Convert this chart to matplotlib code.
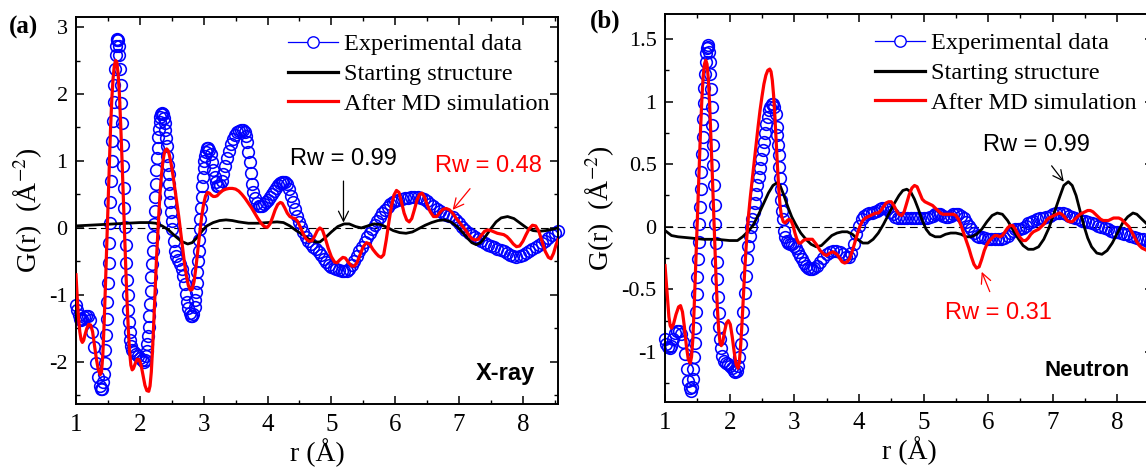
"""
plot.py - pair distribution function G(r): X-ray (a) and neutron (b) panels
Output: out.png (1146x470)
"""
import numpy as np
import matplotlib
matplotlib.use("Agg")
import matplotlib.pyplot as plt
from matplotlib.lines import Line2D
from matplotlib.ticker import MultipleLocator, FuncFormatter

plt.rcParams.update({
    "font.family": ["Liberation Serif", "DejaVu Serif"],
    "mathtext.fontset": "stix",
    "axes.unicode_minus": False,
    "xtick.direction": "in",
    "ytick.direction": "in",
    "xtick.top": True,
    "ytick.right": True,
    "xtick.minor.visible": True,
    "ytick.minor.visible": True,
    "xtick.major.size": 6,
    "ytick.major.size": 6,
    "xtick.minor.size": 3,
    "ytick.minor.size": 3,
    "xtick.major.width": 1.1,
    "ytick.major.width": 1.1,
    "xtick.minor.width": 1.0,
    "ytick.minor.width": 1.0,
    "axes.linewidth": 1.4,
})

# ---------------- (a) X-ray ----------------
xray_exp = [
    (1.00, -1.15), (1.02, -1.22), (1.04, -1.30), (1.06, -1.36), (1.08, -1.38),
    (1.10, -1.36), (1.13, -1.33), (1.16, -1.31), (1.19, -1.32), (1.22, -1.38),
    (1.25, -1.55), (1.28, -1.78), (1.31, -2.02), (1.34, -2.22), (1.37, -2.36),
    (1.39, -2.41), (1.41, -2.40), (1.43, -2.30), (1.44, -2.18), (1.45, -2.02),
    (1.46, -1.82), (1.47, -1.60), (1.48, -1.36), (1.49, -1.10), (1.50, -0.82),
    (1.51, -0.52), (1.52, -0.22), (1.53, 0.08), (1.54, 0.38), (1.55, 0.70),
    (1.56, 1.00), (1.57, 1.30), (1.58, 1.60), (1.59, 1.88), (1.60, 2.14),
    (1.61, 2.38), (1.62, 2.58), (1.63, 2.72), (1.64, 2.80), (1.65, 2.82),
    (1.66, 2.80), (1.67, 2.72), (1.68, 2.58), (1.69, 2.38), (1.70, 2.14),
    (1.71, 1.86), (1.72, 1.56), (1.73, 1.24), (1.74, 0.92), (1.75, 0.60),
    (1.76, 0.30), (1.77, 0.02), (1.78, -0.26), (1.79, -0.52), (1.80, -0.78),
    (1.81, -1.00), (1.82, -1.22), (1.83, -1.40), (1.84, -1.56), (1.85, -1.68),
    (1.86, -1.76), (1.88, -1.82), (1.91, -1.86), (1.94, -1.88), (1.97, -1.92),
    (2.00, -1.95), (2.03, -1.98), (2.06, -2.00), (2.08, -1.98), (2.10, -1.92),
    (2.11, -1.84), (2.12, -1.74), (2.13, -1.62), (2.14, -1.48), (2.15, -1.32),
    (2.16, -1.14), (2.17, -0.94), (2.18, -0.74), (2.19, -0.54), (2.20, -0.34),
    (2.21, -0.14), (2.22, 0.06), (2.23, 0.26), (2.24, 0.46), (2.25, 0.66),
    (2.26, 0.86), (2.27, 1.04), (2.28, 1.20), (2.29, 1.36), (2.30, 1.48),
    (2.31, 1.58), (2.32, 1.65), (2.33, 1.70), (2.35, 1.72), (2.37, 1.70),
    (2.38, 1.64), (2.39, 1.56), (2.40, 1.46), (2.41, 1.34), (2.42, 1.22),
    (2.43, 1.08), (2.44, 0.94), (2.45, 0.80), (2.46, 0.66), (2.47, 0.52),
    (2.48, 0.38), (2.49, 0.24), (2.50, 0.10), (2.51, -0.02), (2.53, -0.20),
    (2.55, -0.34), (2.57, -0.42), (2.60, -0.48), (2.63, -0.54), (2.66, -0.62),
    (2.68, -0.72), (2.70, -0.84), (2.72, -0.98), (2.74, -1.10), (2.76, -1.20),
    (2.78, -1.27), (2.80, -1.31), (2.82, -1.32), (2.84, -1.28), (2.86, -1.18),
    (2.87, -1.08), (2.88, -0.96), (2.89, -0.82), (2.90, -0.66), (2.91, -0.50),
    (2.92, -0.34), (2.93, -0.18), (2.94, -0.02), (2.95, 0.14), (2.96, 0.30),
    (2.97, 0.46), (2.98, 0.62), (2.99, 0.76), (3.00, 0.90), (3.01, 1.00),
    (3.02, 1.08), (3.03, 1.14), (3.05, 1.19), (3.07, 1.20), (3.09, 1.17),
    (3.11, 1.10), (3.13, 0.98), (3.15, 0.86), (3.17, 0.76), (3.19, 0.68),
    (3.21, 0.63), (3.23, 0.62), (3.25, 0.64), (3.28, 0.70), (3.31, 0.80),
    (3.34, 0.92), (3.37, 1.04), (3.40, 1.15), (3.43, 1.25), (3.46, 1.33),
    (3.49, 1.39), (3.52, 1.43), (3.55, 1.45), (3.58, 1.46), (3.61, 1.46),
    (3.64, 1.44), (3.66, 1.38), (3.68, 1.28), (3.70, 1.14), (3.72, 0.98),
    (3.74, 0.82), (3.76, 0.66), (3.78, 0.54), (3.80, 0.44), (3.83, 0.37),
    (3.86, 0.33), (3.89, 0.32), (3.92, 0.33), (3.95, 0.36), (3.98, 0.39),
    (4.01, 0.42), (4.04, 0.46), (4.07, 0.50), (4.10, 0.55), (4.13, 0.60),
    (4.16, 0.64), (4.19, 0.67), (4.22, 0.68), (4.25, 0.68), (4.28, 0.68),
    (4.31, 0.65), (4.34, 0.58), (4.37, 0.48), (4.40, 0.38), (4.43, 0.28),
    (4.46, 0.18), (4.49, 0.09), (4.52, 0.02), (4.56, -0.06), (4.60, -0.13),
    (4.64, -0.19), (4.68, -0.24), (4.72, -0.28), (4.76, -0.32), (4.80, -0.36),
    (4.84, -0.41), (4.88, -0.46), (4.92, -0.51), (4.96, -0.55), (5.00, -0.58),
    (5.04, -0.60), (5.08, -0.62), (5.12, -0.63), (5.16, -0.64), (5.20, -0.65),
    (5.24, -0.64), (5.28, -0.61), (5.32, -0.56), (5.36, -0.49), (5.40, -0.42),
    (5.44, -0.35), (5.48, -0.28), (5.52, -0.21), (5.56, -0.14), (5.60, -0.08),
    (5.64, -0.02), (5.68, 0.04), (5.72, 0.10), (5.76, 0.16), (5.80, 0.22),
    (5.84, 0.27), (5.88, 0.31), (5.92, 0.35), (5.96, 0.38), (6.00, 0.40),
    (6.05, 0.42), (6.10, 0.43), (6.15, 0.44), (6.20, 0.45), (6.25, 0.46),
    (6.30, 0.46), (6.35, 0.46), (6.40, 0.45), (6.45, 0.43), (6.50, 0.40),
    (6.55, 0.36), (6.60, 0.32), (6.65, 0.28), (6.70, 0.25), (6.75, 0.22),
    (6.80, 0.20), (6.85, 0.18), (6.90, 0.16), (6.95, 0.12), (7.00, 0.07),
    (7.05, 0.02), (7.10, -0.03), (7.15, -0.07), (7.20, -0.10), (7.25, -0.13),
    (7.30, -0.16), (7.35, -0.19), (7.40, -0.22), (7.45, -0.25), (7.50, -0.27),
    (7.55, -0.29), (7.60, -0.31), (7.65, -0.33), (7.70, -0.35), (7.75, -0.38),
    (7.80, -0.40), (7.85, -0.42), (7.90, -0.43), (7.95, -0.42), (8.00, -0.40),
    (8.05, -0.38), (8.10, -0.35), (8.15, -0.32), (8.20, -0.29), (8.25, -0.26),
    (8.30, -0.23), (8.35, -0.19), (8.40, -0.15), (8.45, -0.11), (8.50, -0.07),
    (8.55, -0.04),
]

xray_start = [
    (1.00, 0.03), (1.20, 0.04), (1.40, 0.05), (1.60, 0.06), (1.80, 0.07),
    (2.00, 0.08), (2.15, 0.08), (2.25, 0.07), (2.35, 0.03), (2.45, -0.03),
    (2.55, -0.12), (2.65, -0.20), (2.75, -0.24), (2.82, -0.22), (2.90, -0.14),
    (2.98, -0.04), (3.05, 0.03), (3.15, 0.08), (3.25, 0.11), (3.35, 0.12),
    (3.45, 0.11), (3.55, 0.09), (3.70, 0.07), (3.85, 0.07), (4.00, 0.08),
    (4.15, 0.09), (4.25, 0.08), (4.35, 0.03), (4.45, -0.04), (4.55, -0.10),
    (4.65, -0.17), (4.75, -0.21), (4.82, -0.21), (4.90, -0.15), (5.00, -0.06),
    (5.10, 0.02), (5.20, 0.06), (5.28, 0.06), (5.38, 0.02), (5.47, 0.00),
    (5.57, 0.03), (5.67, 0.06), (5.77, 0.05), (5.87, 0.01), (5.97, -0.04),
    (6.07, -0.07), (6.17, -0.08), (6.27, -0.06), (6.37, -0.01), (6.47, 0.04),
    (6.57, 0.08), (6.67, 0.11), (6.77, 0.12), (6.87, 0.09), (6.97, 0.02),
    (7.05, -0.06), (7.13, -0.15), (7.20, -0.22), (7.27, -0.25), (7.34, -0.22),
    (7.42, -0.12), (7.50, -0.01), (7.58, 0.09), (7.66, 0.15), (7.76, 0.17),
    (7.86, 0.14), (7.96, 0.07), (8.06, 0.00), (8.16, -0.04), (8.26, -0.05),
    (8.36, -0.04), (8.46, -0.02), (8.55, 0.00),
]

xray_md = [
    (1.00, -0.70), (1.02, -1.05), (1.04, -1.35), (1.06, -1.55), (1.08, -1.67),
    (1.10, -1.71), (1.12, -1.68), (1.14, -1.60), (1.17, -1.50), (1.20, -1.44),
    (1.23, -1.45), (1.26, -1.55), (1.29, -1.75), (1.32, -1.96), (1.35, -2.12),
    (1.38, -2.19), (1.40, -2.15), (1.42, -1.90), (1.44, -1.45), (1.46, -0.90),
    (1.48, -0.30), (1.50, 0.30), (1.52, 0.90), (1.54, 1.45), (1.56, 1.90),
    (1.58, 2.22), (1.60, 2.42), (1.62, 2.50), (1.64, 2.48), (1.66, 2.30),
    (1.68, 2.00), (1.70, 1.55), (1.72, 1.05), (1.74, 0.50), (1.76, -0.05),
    (1.78, -0.60), (1.80, -1.10), (1.82, -1.52), (1.84, -1.85), (1.86, -2.05),
    (1.88, -2.12), (1.90, -2.10), (1.93, -2.02), (1.96, -1.96), (1.99, -1.97),
    (2.02, -2.05), (2.05, -2.20), (2.08, -2.35), (2.11, -2.43), (2.14, -2.44),
    (2.16, -2.36), (2.18, -2.15), (2.20, -1.80), (2.22, -1.38), (2.24, -0.92),
    (2.26, -0.48), (2.28, -0.10), (2.30, 0.25), (2.32, 0.56), (2.34, 0.80),
    (2.36, 0.98), (2.38, 1.10), (2.40, 1.16), (2.42, 1.18), (2.44, 1.16),
    (2.46, 1.10), (2.49, 0.96), (2.52, 0.78), (2.55, 0.58), (2.58, 0.38),
    (2.61, 0.17), (2.64, -0.06), (2.67, -0.30), (2.70, -0.53), (2.73, -0.72),
    (2.76, -0.86), (2.79, -0.93), (2.82, -0.92), (2.85, -0.80), (2.88, -0.58),
    (2.91, -0.32), (2.94, -0.06), (2.97, 0.18), (3.00, 0.36), (3.03, 0.48),
    (3.06, 0.53), (3.09, 0.52), (3.12, 0.49), (3.15, 0.47), (3.18, 0.47),
    (3.21, 0.48), (3.25, 0.52), (3.30, 0.56), (3.35, 0.58), (3.40, 0.59),
    (3.45, 0.59), (3.50, 0.58), (3.55, 0.55), (3.60, 0.50), (3.65, 0.44),
    (3.70, 0.37), (3.75, 0.30), (3.80, 0.22), (3.85, 0.14), (3.90, 0.07),
    (3.95, 0.02), (4.00, 0.01), (4.04, 0.06), (4.08, 0.16), (4.12, 0.27),
    (4.16, 0.35), (4.20, 0.38), (4.23, 0.37), (4.27, 0.30), (4.31, 0.22),
    (4.35, 0.17), (4.39, 0.15), (4.43, 0.14), (4.47, 0.10), (4.51, 0.02),
    (4.55, -0.07), (4.60, -0.16), (4.65, -0.20), (4.70, -0.19), (4.74, -0.12),
    (4.78, -0.04), (4.82, 0.00), (4.86, -0.03), (4.90, -0.14), (4.95, -0.30),
    (5.00, -0.43), (5.05, -0.51), (5.09, -0.52), (5.13, -0.48), (5.18, -0.44),
    (5.22, -0.45), (5.27, -0.52), (5.32, -0.57), (5.36, -0.57), (5.40, -0.52),
    (5.45, -0.40), (5.50, -0.28), (5.55, -0.22), (5.60, -0.24), (5.65, -0.32),
    (5.70, -0.38), (5.74, -0.42), (5.78, -0.44), (5.82, -0.40), (5.86, -0.18),
    (5.90, 0.08), (5.94, 0.32), (5.98, 0.49), (6.02, 0.56), (6.06, 0.53),
    (6.10, 0.38), (6.14, 0.22), (6.18, 0.12), (6.22, 0.09), (6.26, 0.14),
    (6.30, 0.27), (6.34, 0.41), (6.38, 0.50), (6.42, 0.52), (6.46, 0.46),
    (6.50, 0.35), (6.55, 0.24), (6.60, 0.17), (6.65, 0.17), (6.70, 0.23),
    (6.75, 0.28), (6.80, 0.29), (6.85, 0.27), (6.90, 0.22), (6.95, 0.15),
    (7.00, 0.09), (7.05, 0.03), (7.10, -0.03), (7.15, -0.10), (7.20, -0.16),
    (7.25, -0.18), (7.30, -0.17), (7.35, -0.11), (7.40, -0.05), (7.45, -0.03),
    (7.50, -0.04), (7.55, -0.06), (7.60, -0.08), (7.65, -0.09), (7.70, -0.10),
    (7.75, -0.13), (7.80, -0.18), (7.85, -0.24), (7.90, -0.28), (7.95, -0.27),
    (8.00, -0.20), (8.05, -0.10), (8.10, -0.01), (8.15, 0.04), (8.20, 0.03),
    (8.25, -0.05), (8.30, -0.20), (8.35, -0.35), (8.40, -0.44), (8.44, -0.46),
    (8.48, -0.38), (8.52, -0.25), (8.55, -0.18),
]

# ---------------- (b) Neutron ----------------
neutron_exp = [
    (1.00, -0.90), (1.02, -0.94), (1.04, -0.96), (1.07, -0.97), (1.10, -0.95),
    (1.13, -0.90), (1.16, -0.85), (1.19, -0.83), (1.22, -0.83), (1.25, -0.86),
    (1.28, -0.92), (1.31, -1.02), (1.34, -1.14), (1.36, -1.23), (1.38, -1.29),
    (1.40, -1.31), (1.42, -1.28), (1.43, -1.22), (1.44, -1.14), (1.45, -1.04),
    (1.46, -0.93), (1.47, -0.81), (1.48, -0.68), (1.49, -0.54), (1.50, -0.40),
    (1.51, -0.26), (1.52, -0.12), (1.53, 0.02), (1.54, 0.16), (1.55, 0.30),
    (1.56, 0.44), (1.57, 0.58), (1.58, 0.72), (1.59, 0.86), (1.60, 0.99),
    (1.61, 1.11), (1.62, 1.22), (1.63, 1.32), (1.64, 1.39), (1.65, 1.43),
    (1.66, 1.45), (1.67, 1.44), (1.68, 1.40), (1.69, 1.32), (1.70, 1.22),
    (1.71, 1.10), (1.72, 0.96), (1.73, 0.81), (1.74, 0.65), (1.75, 0.49),
    (1.76, 0.33), (1.77, 0.17), (1.78, 0.02), (1.79, -0.13), (1.80, -0.28),
    (1.81, -0.42), (1.82, -0.56), (1.83, -0.69), (1.84, -0.80), (1.85, -0.90),
    (1.86, -0.97), (1.88, -1.03), (1.91, -1.07), (1.94, -1.09), (1.97, -1.10),
    (2.00, -1.11), (2.03, -1.13), (2.06, -1.15), (2.09, -1.16), (2.11, -1.15),
    (2.13, -1.11), (2.15, -1.04), (2.17, -0.94), (2.19, -0.82), (2.21, -0.68),
    (2.23, -0.53), (2.25, -0.39), (2.27, -0.26), (2.29, -0.15), (2.31, -0.07),
    (2.33, 0.00), (2.35, 0.06), (2.37, 0.12), (2.39, 0.19), (2.41, 0.26),
    (2.43, 0.33), (2.45, 0.40), (2.47, 0.47), (2.49, 0.54), (2.51, 0.61),
    (2.53, 0.68), (2.55, 0.75), (2.57, 0.82), (2.59, 0.88), (2.61, 0.93),
    (2.63, 0.96), (2.65, 0.98), (2.67, 0.98), (2.69, 0.96), (2.71, 0.90),
    (2.73, 0.80), (2.74, 0.73), (2.75, 0.65), (2.76, 0.57), (2.77, 0.48),
    (2.78, 0.39), (2.79, 0.30), (2.80, 0.21), (2.81, 0.13), (2.82, 0.06),
    (2.84, -0.03), (2.86, -0.08), (2.88, -0.11), (2.91, -0.13), (2.94, -0.14),
    (2.97, -0.14), (3.00, -0.15), (3.03, -0.17), (3.06, -0.20), (3.09, -0.23),
    (3.12, -0.26), (3.15, -0.29), (3.18, -0.31), (3.21, -0.33), (3.24, -0.34),
    (3.27, -0.34), (3.30, -0.33), (3.35, -0.31), (3.40, -0.28), (3.45, -0.25),
    (3.50, -0.22), (3.55, -0.20), (3.60, -0.19), (3.65, -0.19), (3.70, -0.20),
    (3.75, -0.22), (3.80, -0.24), (3.84, -0.24), (3.88, -0.21), (3.92, -0.14),
    (3.96, -0.06), (4.00, 0.01), (4.04, 0.06), (4.08, 0.09), (4.12, 0.10),
    (4.16, 0.11), (4.20, 0.11), (4.24, 0.12), (4.28, 0.13), (4.32, 0.14),
    (4.36, 0.15), (4.40, 0.15), (4.44, 0.14), (4.48, 0.12), (4.52, 0.10),
    (4.56, 0.08), (4.60, 0.07), (4.65, 0.07), (4.70, 0.07), (4.75, 0.07),
    (4.80, 0.07), (4.85, 0.07), (4.90, 0.07), (4.95, 0.07), (5.00, 0.07),
    (5.05, 0.07), (5.10, 0.08), (5.14, 0.09), (5.18, 0.10), (5.22, 0.10),
    (5.26, 0.10), (5.30, 0.09), (5.34, 0.08), (5.38, 0.08), (5.42, 0.09),
    (5.46, 0.10), (5.50, 0.10), (5.54, 0.10), (5.58, 0.09), (5.62, 0.07),
    (5.66, 0.04), (5.70, 0.01), (5.74, -0.02), (5.78, -0.05), (5.82, -0.07),
    (5.86, -0.08), (5.90, -0.08), (5.95, -0.09), (6.00, -0.10), (6.05, -0.10),
    (6.10, -0.10), (6.15, -0.10), (6.20, -0.10), (6.25, -0.09), (6.30, -0.07),
    (6.34, -0.05), (6.38, -0.03), (6.42, -0.02), (6.46, -0.02), (6.50, -0.02),
    (6.54, -0.01), (6.58, 0.01), (6.62, 0.03), (6.66, 0.04), (6.70, 0.05),
    (6.75, 0.06), (6.80, 0.07), (6.85, 0.07), (6.90, 0.08), (6.95, 0.09),
    (7.00, 0.10), (7.05, 0.11), (7.10, 0.11), (7.15, 0.11), (7.20, 0.10),
    (7.25, 0.09), (7.30, 0.08), (7.35, 0.07), (7.40, 0.06), (7.45, 0.05),
    (7.50, 0.05), (7.55, 0.04), (7.60, 0.03), (7.65, 0.02), (7.70, 0.01),
    (7.75, 0.00), (7.80, -0.01), (7.85, -0.02), (7.90, -0.03), (7.95, -0.04),
    (8.00, -0.04), (8.05, -0.05), (8.10, -0.06), (8.15, -0.06), (8.20, -0.07),
    (8.25, -0.08), (8.30, -0.09), (8.35, -0.10), (8.40, -0.10), (8.45, -0.11),
    (8.50, -0.12), (8.55, -0.12),
]

neutron_start = [
    (1.00, -0.03), (1.05, -0.05), (1.10, -0.07), (1.20, -0.08), (1.40, -0.09),
    (1.60, -0.10), (1.80, -0.10), (2.00, -0.11), (2.12, -0.11), (2.20, -0.08),
    (2.28, -0.04), (2.36, 0.01), (2.44, 0.09), (2.52, 0.18), (2.60, 0.27),
    (2.67, 0.33), (2.73, 0.35), (2.78, 0.33), (2.84, 0.25), (2.90, 0.16),
    (2.96, 0.08), (3.02, 0.02), (3.10, -0.05), (3.18, -0.10), (3.26, -0.14),
    (3.34, -0.16), (3.42, -0.15), (3.50, -0.11), (3.58, -0.07), (3.66, -0.05),
    (3.74, -0.04), (3.82, -0.04), (3.90, -0.06), (3.98, -0.10), (4.06, -0.13),
    (4.14, -0.13), (4.22, -0.10), (4.30, -0.05), (4.38, 0.02), (4.46, 0.10),
    (4.54, 0.18), (4.62, 0.25), (4.68, 0.29), (4.74, 0.30), (4.80, 0.28),
    (4.86, 0.22), (4.92, 0.14), (4.98, 0.05), (5.04, -0.02), (5.10, -0.06),
    (5.18, -0.08), (5.26, -0.08), (5.34, -0.06), (5.42, -0.05), (5.50, -0.05),
    (5.58, -0.06), (5.66, -0.08), (5.74, -0.08), (5.82, -0.06), (5.90, -0.02),
    (5.98, 0.04), (6.06, 0.09), (6.14, 0.11), (6.22, 0.10), (6.30, 0.05),
    (6.38, -0.02), (6.46, -0.09), (6.54, -0.15), (6.62, -0.18), (6.70, -0.18),
    (6.78, -0.16), (6.86, -0.10), (6.94, -0.01), (7.02, 0.11), (7.10, 0.23),
    (7.17, 0.33), (7.24, 0.36), (7.30, 0.33), (7.36, 0.25), (7.42, 0.13),
    (7.48, 0.01), (7.54, -0.09), (7.60, -0.16), (7.68, -0.21), (7.76, -0.22),
    (7.84, -0.19), (7.92, -0.13), (8.00, -0.05), (8.08, 0.03), (8.16, 0.08),
    (8.24, 0.11), (8.30, 0.10), (8.38, 0.06), (8.46, 0.02), (8.55, 0.00),
]

neutron_md = [
    (1.00, -0.31), (1.02, -0.45), (1.04, -0.60), (1.06, -0.72), (1.08, -0.79),
    (1.10, -0.81), (1.13, -0.78), (1.17, -0.70), (1.21, -0.64), (1.24, -0.63),
    (1.27, -0.68), (1.30, -0.80), (1.33, -0.95), (1.36, -1.06), (1.39, -1.09),
    (1.41, -1.04), (1.43, -0.90), (1.45, -0.66), (1.47, -0.38), (1.49, -0.10),
    (1.51, 0.20), (1.53, 0.50), (1.55, 0.78), (1.57, 1.02), (1.59, 1.20),
    (1.61, 1.30), (1.63, 1.33), (1.65, 1.30), (1.67, 1.18), (1.69, 0.98),
    (1.71, 0.72), (1.73, 0.44), (1.75, 0.15), (1.77, -0.14), (1.79, -0.42),
    (1.81, -0.65), (1.83, -0.82), (1.85, -0.92), (1.87, -0.95), (1.89, -0.93),
    (1.92, -0.84), (1.95, -0.77), (1.98, -0.75), (2.01, -0.78), (2.04, -0.88),
    (2.07, -1.00), (2.10, -1.10), (2.13, -1.13), (2.15, -1.08), (2.17, -0.95),
    (2.19, -0.78), (2.21, -0.58), (2.23, -0.38), (2.25, -0.20), (2.27, -0.05),
    (2.29, 0.08), (2.32, 0.24), (2.35, 0.38), (2.38, 0.52), (2.41, 0.66),
    (2.44, 0.80), (2.47, 0.93), (2.50, 1.04), (2.53, 1.14), (2.56, 1.21),
    (2.59, 1.25), (2.62, 1.26), (2.64, 1.24), (2.66, 1.17), (2.68, 1.05),
    (2.70, 0.88), (2.72, 0.68), (2.74, 0.48), (2.76, 0.30), (2.78, 0.17),
    (2.80, 0.09), (2.83, 0.04), (2.86, 0.03), (2.89, 0.05), (2.92, 0.06),
    (2.95, 0.05), (2.98, 0.01), (3.01, -0.05), (3.04, -0.10), (3.07, -0.13),
    (3.10, -0.13), (3.14, -0.11), (3.18, -0.10), (3.22, -0.10), (3.28, -0.10),
    (3.34, -0.14), (3.40, -0.19), (3.46, -0.22), (3.50, -0.23), (3.55, -0.21),
    (3.60, -0.20), (3.66, -0.22), (3.70, -0.25), (3.74, -0.28), (3.78, -0.29),
    (3.82, -0.28), (3.86, -0.25), (3.90, -0.19), (3.94, -0.12), (3.98, -0.05),
    (4.02, 0.01), (4.06, 0.05), (4.10, 0.07), (4.14, 0.08), (4.18, 0.09),
    (4.22, 0.10), (4.26, 0.11), (4.30, 0.11), (4.34, 0.13), (4.38, 0.16),
    (4.42, 0.19), (4.46, 0.20), (4.50, 0.20), (4.54, 0.17), (4.58, 0.13),
    (4.62, 0.10), (4.66, 0.09), (4.70, 0.12), (4.74, 0.19), (4.78, 0.26),
    (4.82, 0.31), (4.86, 0.33), (4.90, 0.32), (4.94, 0.27), (4.98, 0.22),
    (5.02, 0.20), (5.06, 0.19), (5.10, 0.18), (5.14, 0.17), (5.18, 0.15),
    (5.22, 0.13), (5.26, 0.11), (5.30, 0.10), (5.38, 0.10), (5.46, 0.10),
    (5.50, 0.09), (5.54, 0.06), (5.58, 0.01), (5.62, -0.05), (5.66, -0.11),
    (5.70, -0.17), (5.74, -0.24), (5.78, -0.30), (5.82, -0.33), (5.86, -0.32),
    (5.90, -0.26), (5.94, -0.19), (5.98, -0.14), (6.02, -0.11), (6.06, -0.09),
    (6.10, -0.07), (6.14, -0.07), (6.18, -0.08), (6.22, -0.07), (6.26, -0.04),
    (6.30, -0.01), (6.34, 0.01), (6.38, 0.01), (6.42, -0.02), (6.46, -0.06),
    (6.50, -0.09), (6.54, -0.11), (6.58, -0.11), (6.62, -0.09), (6.66, -0.06),
    (6.70, -0.04), (6.74, -0.03), (6.78, -0.02), (6.82, 0.00), (6.86, 0.02),
    (6.90, 0.05), (6.94, 0.07), (6.98, 0.08), (7.02, 0.09), (7.06, 0.10),
    (7.10, 0.11), (7.14, 0.10), (7.18, 0.08), (7.22, 0.05), (7.26, 0.04),
    (7.30, 0.04), (7.34, 0.06), (7.38, 0.08), (7.42, 0.10), (7.46, 0.11),
    (7.50, 0.12), (7.54, 0.13), (7.58, 0.13), (7.62, 0.12), (7.66, 0.10),
    (7.70, 0.08), (7.74, 0.06), (7.78, 0.05), (7.86, 0.05), (7.94, 0.07),
    (8.02, 0.07), (8.06, 0.06), (8.10, 0.04), (8.14, 0.02), (8.18, 0.00),
    (8.22, -0.04), (8.26, -0.08), (8.30, -0.12), (8.34, -0.15), (8.38, -0.17),
    (8.42, -0.18), (8.46, -0.19), (8.50, -0.18), (8.55, -0.17),
]

legend_labels = ["Experimental data", "Starting structure", "After MD simulation"]

BLUE = "#0000ff"
RED = "#ff0000"
SANS = ["Liberation Sans", "DejaVu Sans"]


def draw_panel(ax, exp, start, md, ylim, ymajor, yminor):
    exp = np.array(exp)
    start = np.array(start)
    md = np.array(md)
    ax.axhline(0, color="black", lw=0.8, ls=(0, (7, 4)), zorder=1)
    ax.plot(exp[:, 0], exp[:, 1], ls="none", marker="o", ms=8.4,
            mfc="none", mec=BLUE, mew=1.15, zorder=2, clip_on=False)
    ax.plot(start[:, 0], start[:, 1], color="black", lw=2.0, zorder=3)
    ax.plot(md[:, 0], md[:, 1], color=RED, lw=2.3, zorder=4)

    ax.set_xlim(1, 8.55)
    ax.set_ylim(*ylim)
    ax.xaxis.set_major_locator(MultipleLocator(1))
    ax.xaxis.set_minor_locator(MultipleLocator(0.5))
    ax.yaxis.set_major_locator(MultipleLocator(ymajor))
    ax.yaxis.set_minor_locator(MultipleLocator(yminor))
    fmt = FuncFormatter(lambda v, p: f"{v:g}")
    ax.xaxis.set_major_formatter(fmt)
    ax.yaxis.set_major_formatter(fmt)
    ax.tick_params(axis="x", which="major", labelsize=18, pad=7)
    ax.tick_params(axis="y", which="major", labelsize=16, pad=6)
    ax.set_xlabel("r (Å)", fontsize=20, labelpad=2)
    ax.set_ylabel("G(r)  (Å$^{-2}$)", fontsize=20, labelpad=4)


def add_legend(ax, anchor):
    handles = [
        Line2D([], [], color=BLUE, lw=0.9, marker="o", ms=8.2, mfc="white",
               mec=BLUE, mew=1.0),
        Line2D([], [], color="black", lw=2.3),
        Line2D([], [], color=RED, lw=2.3),
    ]
    ax.legend(handles, legend_labels, loc="upper left", bbox_to_anchor=anchor,
              frameon=False, fontsize=17.5, handlelength=2.05, handletextpad=0.25,
              labelspacing=0.32, borderpad=0, borderaxespad=0, numpoints=1)


fig = plt.figure(figsize=(11.46, 4.70), dpi=100)
ax1 = fig.add_axes([0.0663, 0.1404, 0.4206, 0.8234])
ax2 = fig.add_axes([0.5803, 0.1447, 0.4258, 0.8255])

draw_panel(ax1, xray_exp, xray_start, xray_md, (-2.63, 3.15), 1, 0.5)
draw_panel(ax2, neutron_exp, neutron_start, neutron_md, (-1.40, 1.70), 0.5, 0.25)

add_legend(ax1, (0.44, 0.958))
add_legend(ax2, (0.43, 0.953))

# Rw annotations
ax1.annotate("Rw = 0.99", xy=(5.19, 0.08), xytext=(5.19, 1.03),
             ha="center", va="center", fontsize=17, family=SANS,
             arrowprops=dict(arrowstyle="->", color="black", lw=0.9,
                             shrinkA=6, shrinkB=0, mutation_scale=18))
ax1.annotate("Rw = 0.48", xy=(6.90, 0.27), xytext=(7.46, 0.92),
             ha="center", va="center", fontsize=17, color=RED, family=SANS,
             arrowprops=dict(arrowstyle="->", color=RED, lw=0.9,
                             shrinkA=8, shrinkB=0, mutation_scale=18))
ax2.annotate("Rw = 0.99", xy=(7.17, 0.36), xytext=(6.74, 0.65),
             ha="center", va="center", fontsize=17, family=SANS,
             arrowprops=dict(arrowstyle="->", color="black", lw=0.9,
                             shrinkA=6, shrinkB=0, mutation_scale=18))
ax2.annotate("Rw = 0.31", xy=(5.90, -0.36), xytext=(6.16, -0.69),
             ha="center", va="center", fontsize=17, color=RED, family=SANS,
             arrowprops=dict(arrowstyle="->", color=RED, lw=0.9,
                             shrinkA=6, shrinkB=0, mutation_scale=18))

ax1.text(0.952, 0.08, "X-ray", transform=ax1.transAxes, ha="right",
         va="center", fontsize=17, fontweight="bold", family=SANS)
ax2.text(0.953, 0.08, "Neutron", transform=ax2.transAxes, ha="right",
         va="center", fontsize=16, fontweight="bold", family=SANS)

fig.text(24 / 1146, 1 - 27 / 470, "(a)", ha="center", va="center",
         fontsize=18, fontweight="bold")
fig.text(605 / 1146, 1 - 21 / 470, "(b)", ha="center", va="center",
         fontsize=18, fontweight="bold")

fig.savefig("out.png", dpi=100)
plt.close(fig)
